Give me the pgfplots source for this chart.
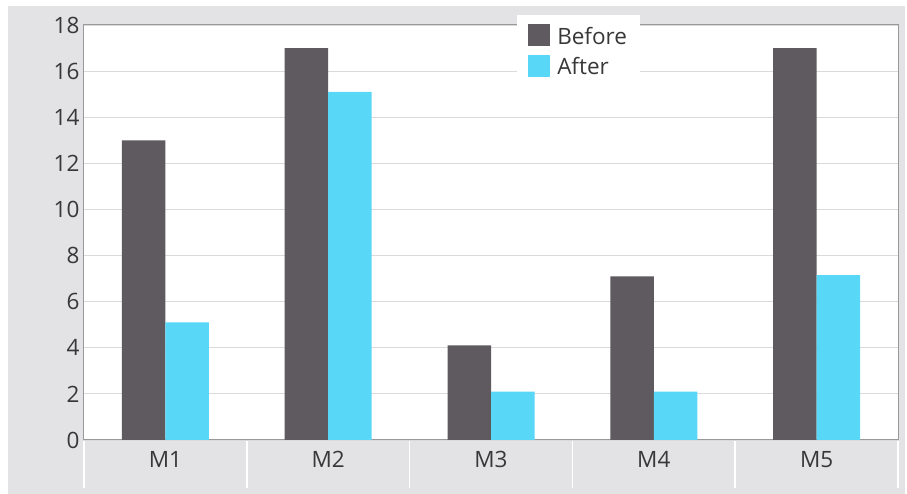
\documentclass[border=0pt]{standalone}
\usepackage{pgfplots}
\pgfplotsset{compat=1.18}
\usepackage{fontspec}
\setmainfont{Open Sans}
\definecolor{bgray}{HTML}{E3E3E5}
\definecolor{barA}{HTML}{5E5A5F}
\definecolor{barB}{HTML}{58D8F6}
\definecolor{gridc}{HTML}{DADADA}
\definecolor{txt}{HTML}{383838}
\begin{document}
\begin{tikzpicture}[x=1pt,y=1pt]
\useasboundingbox (0,0) rectangle (907,494);
\fill[bgray] (8,0) rectangle (905,488);
\begin{axis}[
  at={(84pt,54pt)}, anchor=south west,
  scale only axis, width=814pt, height=415pt,
  ybar=0pt, bar width=43.5pt,
  xmin=-0.5, xmax=4.5, ymin=0, ymax=18,
  xtick=data, xticklabels={M1,M2,M3,M4,M5},
  ytick={0,2,...,18},
  major tick length=0pt,
  ymajorgrids, grid style={gridc, line width=1.2pt},
  axis line style={draw=black!40, line width=1pt},
  axis background/.style={fill=white},
  tick label style={font=\fontsize{22.5}{26}\selectfont, text=txt},
  /pgf/number format/assume math mode=true,
  xticklabel style={yshift=-8pt},
  yticklabel style={xshift=-1pt},
  legend style={at={(0.532,1)}, yshift=10pt, anchor=north west, draw=none, fill=white,
    font=\fontsize{22.5}{26}\selectfont, text=txt, inner xsep=11pt, inner ysep=9pt, row sep=7pt,
    /tikz/every odd column/.append style={column sep=5pt}},
  legend cell align=left,
  legend image code/.code={\fill[#1] (0pt,-10pt) rectangle (22pt,12pt);},
]
\addplot[fill=barA, draw=none] coordinates {(0,13) (1,17) (2,4.1) (3,7.1) (4,17)};
\addplot[fill=barB, draw=none] coordinates {(0,5.1) (1,15.1) (2,2.1) (3,2.1) (4,7.15)};
\legend{Before,After}
\end{axis}
\foreach \k in {0,...,5} {
  \draw[white, line width=1.5pt] ({84+\k*162.8},6) -- ({84+\k*162.8},53);
}
\end{tikzpicture}
\end{document}
